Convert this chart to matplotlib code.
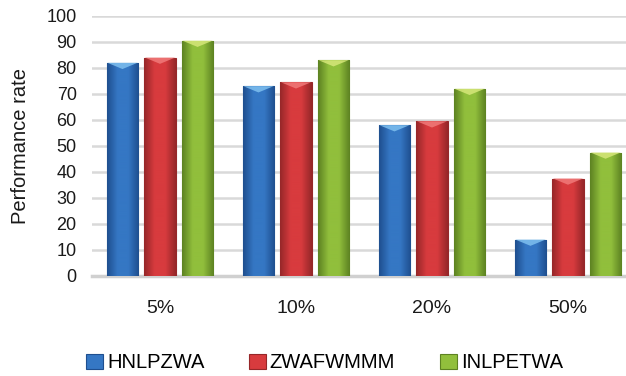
import matplotlib.pyplot as plt
import matplotlib.colors as mcolors
from matplotlib.patches import Polygon
import numpy as np

plt.rcParams['font.family'] = ['Liberation Sans', 'DejaVu Sans']

# data
categories = ['5%', '10%', '20%', '50%']
series_names = ['HNLPZWA', 'ZWAFWMMM', 'INLPETWA']
hnlpzwa = [82, 73, 58, 14]
zwafwmmm = [84, 74.5, 59.5, 37.5]
inlpetwa = [90.5, 83, 72, 47.5]
yticks = list(range(0, 101, 10))

colors = ['#3577c4', '#d83b3e', '#91bf3c']
darks = ['#1f4f8f', '#962729', '#5d8222']
lights = ['#7fc0ef', '#f07a7a', '#d6e77a']


def shade_bar(ax, patch, base, dark, light):
    # horizontal gradient: dark at the sides, base colour in the middle
    x0, y0 = patch.get_x(), patch.get_y()
    w, h = patch.get_width(), patch.get_height()
    cmap = mcolors.LinearSegmentedColormap.from_list('b', [dark, base, base, dark])
    grad = np.linspace(0, 1, 64).reshape(1, -1)
    im = ax.imshow(grad, cmap=cmap, extent=[x0, x0 + w, y0, y0 + h],
                   aspect='auto', zorder=3, interpolation='bicubic')
    im.set_clip_path(patch)
    # light bevel at the top
    bev = 2.4
    tri = Polygon([[x0 + 0.02 * w, y0 + h], [x0 + 0.98 * w, y0 + h],
                   [x0 + 0.5 * w, y0 + h - bev]], closed=True,
                  facecolor=light, edgecolor='none', alpha=0.85, zorder=4)
    ax.add_patch(tri)


fig = plt.figure(figsize=(6.26, 3.76), dpi=100)
# axes runs a bit past the right edge, like the cropped original
ax = fig.add_axes([92 / 626, 1 - 276 / 376, 544 / 626, 260 / 376])

x = np.arange(len(categories))
width = 0.23
step = 0.276
for i, (vals, name) in enumerate(zip([hnlpzwa, zwafwmmm, inlpetwa], series_names)):
    bars = ax.bar(x + (i - 1) * step, vals, width, color=colors[i], edgecolor=darks[i],
                  linewidth=0.8, label=name, zorder=3)
    for b in bars:
        shade_bar(ax, b, colors[i], darks[i], lights[i])

ax.set_xlim(-0.5, len(categories) - 0.5)
ax.set_ylim(0, 100)
ax.set_yticks(yticks)
ax.set_xticks(x)
ax.set_xticklabels(categories, fontsize=14)
ax.yaxis.grid(True, color='#d9d9d9', linewidth=1.8, zorder=0)
for s in ['top', 'right', 'left']:
    ax.spines[s].set_visible(False)
ax.spines['bottom'].set_color('#d0d0d0')
ax.spines['bottom'].set_linewidth(2.5)
ax.tick_params(axis='both', length=0, colors='#1a1a1a')
ax.tick_params(axis='y', labelsize=13, pad=11)
ax.tick_params(axis='x', pad=17)
ax.set_ylabel('Performance rate', fontsize=14.5, color='#1a1a1a')
ax.yaxis.set_label_coords(-0.114, 0.5)

fig.legend(loc='center', bbox_to_anchor=(0.518, 1 - 363 / 376), ncol=3, frameon=False,
           fontsize=14.5, handlelength=0.85, handleheight=0.75, handletextpad=0.2,
           columnspacing=2.2)

fig.savefig('out.png', dpi=100)
